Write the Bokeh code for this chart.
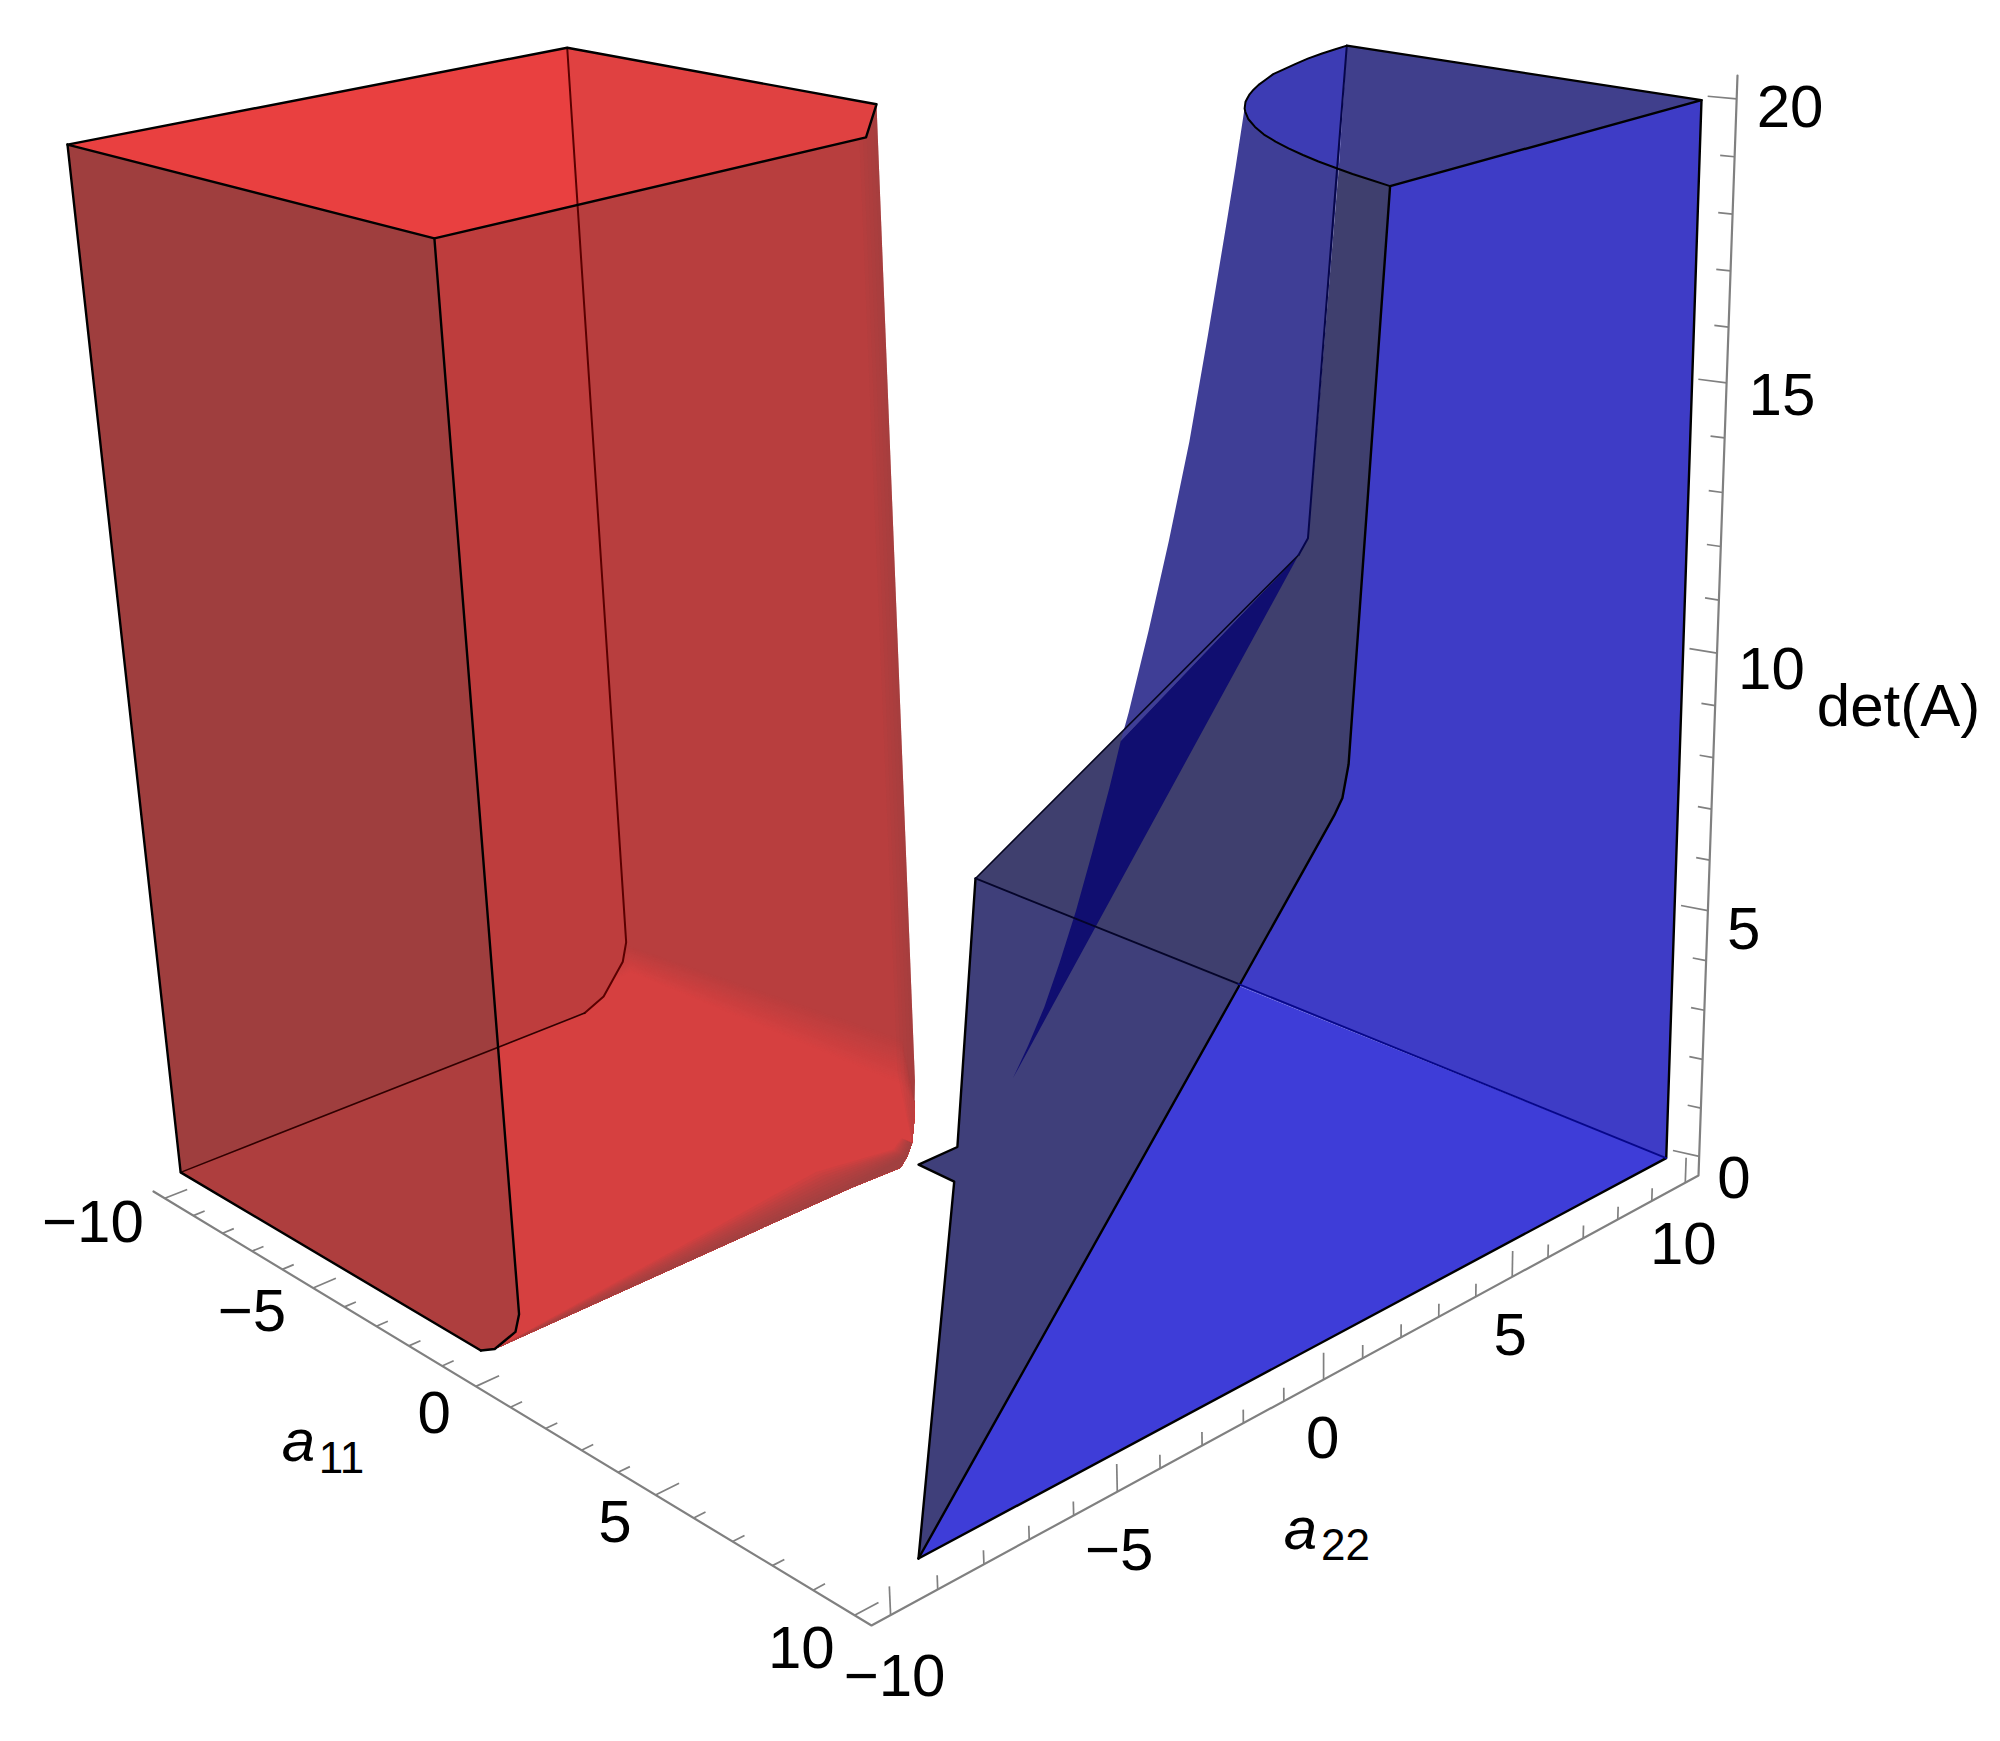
from bokeh.plotting import figure
from bokeh.embed import file_html
from bokeh.resources import INLINE
from bokeh.models import ColumnDataSource
from bokeh.core.properties import value

# ---------- tick values and labels ----------
a11_ticks = list(range(-10, 11))
a22_ticks = list(range(-10, 11))
det_ticks = list(range(0, 21))
a11_major = [-10, -5, 0, 5, 10]
a22_major = [-10, -5, 0, 5, 10]
det_major = [0, 5, 10, 15, 20]
a11_labels = ["\u221210", "\u22125", "0", "5", "10"]
a22_labels = ["\u221210", "\u22125", "0", "5", "10"]
det_labels = ["0", "5", "10", "15", "20"]

# ---------- surface outlines, (a11, a22, det) ----------
# rim of the det = a11*a22 sheet at det = 20, from a11 = 10 round to a22 = 10
blue_curve = [(10, 2, 20), (9.5, 2.11, 20), (9, 2.22, 20), (8.6, 2.33, 20), (8, 2.5, 20), (7.5, 2.67, 20), (7, 2.86, 20),
              (6.5, 3.08, 20), (6, 3.33, 20), (5.5, 3.64, 20), (5, 4, 20), (4.6, 4.35, 20), (4.4, 4.54, 20),
              (4.22, 4.74, 20), (4.05, 4.93, 20), (3.9, 5.13, 20), (3.7, 5.4, 20), (3.5, 5.71, 20), (3.3, 6.05, 20),
              (3.1, 6.45, 20), (2.9, 6.85, 20), (2.7, 7.35, 19.98), (2.5, 7.85, 19.96), (2.3, 8.4, 19.94),
              (2.1, 9.0, 19.91), (1.95, 9.5, 19.88), (1.8, 10, 19.85)]
blue_sil_low = [(1, 1.58, 1.58), (1.25, 1.76, 2.27), (1.5, 1.97, 3.07), (1.75, 2.16, 4.0), (2, 2.37, 5.04),
                (2.25, 2.58, 6.21), (2.5, 2.82, 7.5)]
blue_cross = [(-4.53, 10, 4.47)]
blue_sil_high = [(2.75, 3.1, 8.94), (3, 3.4, 10.5), (3.25, 3.7, 12.18), (3.5, 4.0, 14), (3.75, 4.25, 15.96),
                 (4, 4.51, 18.05), (4.1, 4.62, 18.93), (4.22, 4.74, 20)]
blue_hyp = [(10, -9.03, 0), (1, 0, 0), (0, 0, 0), (0, 1, 0), (-9.2, 10, 0)]
blue_back = [(-9.2, 10, 0), (0.55, 10, 9.7), (0.8, 10, 10.1), (1.8, 10, 19.85)]
blue_front = [(10, 2, 20), (10, 1.05, 10.5), (10, 0.9, 9.95), (10, 0.7, 9.7), (10, -1.6, 7.4), (10, -9.03, 0)]
blue_corner_top = (10, 9.95, 20)
blue_corner_low = (10, 9.92, 0)
blue_floor_split = (-1.18, 10, 0)

red_top = [(-10, -10, 19.85), (-10, 0.92, 19.75), (-1.16, 1, 19.9), (0.95, -1.1, 20), (0.9, -10, 20)]
red_top_back = [(-10, 0.92, 19.75), (-1.16, 1, 19.9), (0.95, -1.1, 20), (0.9, -7.26, 20)]
red_rim = [(-1.16, 1, 19.9), (-1.16, 1, 1), (-0.85, 0.7, 0.75), (-0.6, 0.45, 0.5), (-0.45, 0.25, 0.2)]
red_lower = [(-0.2, -0.1, 0.14), (0, -0.45, 0.1), (0, -1.7, 0.15), (0.08, -10, 0.2), (-0.35, -10, 0), (-10, -10, 0)]
red_front = [(0.9, -10, 20), (0.9, -10, 1.2), (0.75, -10, 0.8), (0.08, -10, 0.2), (-0.35, -10, 0), (-10, -10, 0)]
red_back = [(-10, 0.92, 19.75), (-10, 0.92, 1.2), (-10, 0.8, 0.8), (-10, 0.25, 0.2), (-10, -0.26, 0), (-10, -10, 0)]
red_front_cross = (0.9, -10, 6.2)

# ---------- camera: box corners on the page and their perspective weights ----------
BOX = 10.4
Z0, Z1 = -0.4, 20.4
C0 = (153, 1191, 1.0)
C1 = (871, 1625, 0.815)
C2 = (1698, 1175, 0.9829)
C3 = (1737, 75, 0.8891)
H = [tuple((c[i] * c[2] if i < 2 else c[2]) for i in range(3)) for c in (C0, C1, C2, C3)]
DX = [H[1][i] - H[0][i] for i in range(3)]
DY = [H[2][i] - H[1][i] for i in range(3)]
DZ = [H[3][i] - H[2][i] for i in range(3)]


def project(a, b, d):
    u = (a + BOX) / (2 * BOX)
    v = (b + BOX) / (2 * BOX)
    w = (d - Z0) / (Z1 - Z0)
    q = [H[0][i] + u * DX[i] + v * DY[i] + w * DZ[i] for i in range(3)]
    return q[0] / q[2], q[1] / q[2]


def xy(points):
    pts = [project(*p) for p in points]
    return [p[0] for p in pts], [p[1] for p in pts]


p = figure(width=1984, height=1725, x_range=(0, 1984), y_range=(1725, 0), output_backend="svg",
           toolbar_location=None, min_border=0, outline_line_color=None, background_fill_color="white")
p.axis.visible = False
p.grid.visible = False


def fill(points, color, alpha=1.0):
    x, y = xy(points)
    p.patch(x, y, fill_color=color, fill_alpha=alpha, line_color=None)


def stroke(points, color="#000000", width=2.0):
    x, y = xy(points)
    p.line(x, y, line_color=color, line_width=width, line_join="round", line_cap="round")


def mix(c1, c2, t):
    return "#" + "".join("%02x" % round(a + (b - a) * t) for a, b in zip(c1, c2))


# ---------- red solid ----------
fill(red_top[:3] + red_rim[1:] + red_lower, "#b83e3e")
STEPS = 24
for i in range(1, STEPS + 1):
    t = i / STEPS
    dl = 1.1 + (0.5 - 1.1) * t
    dr = 1.8 + (0.8 - 1.8) * t
    fill([(-10, 1, dl), (-1.5, 1, dr)] + red_rim[2:] + red_lower, mix((0xb8, 0x3e, 0x3e), (0xd6, 0x40, 0x40), t))
for s in (0.1, 0.2, 0.3, 0.4, 0.5):
    fill(red_rim + [(-1.16 - s, 1, 1), (-1.16 - s, 1, 19.9)], "#8f4040", 0.08)
for i in range(1, 11):
    t = i / 10
    fill([(0.08, -10, 0.2), (0, -1.7, 0.15), (0, -0.45, 0.1), (-0.2, -0.1, 0.14), (-0.45, 0.25, 0.2),
          (-0.45 - 0.3 * t, 0.25, 0.2), (-0.2 - 0.4 * t, -0.1, 0.14), (-1.0 * t, -1.7, 0.12)], "#8a4040", 0.1)
fill([red_top[4]] + red_back, "#be3d3d")
fill([red_top[0]] + red_front, "#ae3e3e")
fill([red_top[0], red_top[4], red_front_cross, red_front[-1]], "#9f3e3e")
fill(red_top, "#e94040")
fill(red_top_back, "#e04141")

stroke(red_back[:5], "#5a0000", 2.0)
stroke(red_back[4:], "#300000", 1.6)
stroke(red_top + [red_top[0]], "#000000", 2.4)
stroke(red_front[:5], "#000000", 2.4)
stroke([red_front[4], red_front[5], red_top[0]], "#000000", 2.4)

# ---------- blue solid ----------
fill(blue_hyp + blue_back[1:3] + blue_front[1:5] + [blue_front[-1]], "#3f3f7a")
fill(blue_back[:3] + [(8.6, 2.33, 20), (9, 2.22, 20), (10, 2, 20)] + blue_front[1:5], "#3f3f6e")
fill(blue_sil_low + blue_cross + [blue_back[1]], "#100e70")
upper = blue_curve[3:14][::-1]
fill(blue_cross + blue_sil_high + upper[1:] + [blue_back[2], blue_back[1]], "#3f3e96")
fill([blue_front[4], blue_front[3], blue_front[2], blue_front[1], blue_front[0], blue_corner_top, blue_corner_low],
     "#3e3cc6")
fill([blue_front[-1], blue_front[4], blue_corner_low], "#3e3dd8")
fill([blue_curve[-1], blue_corner_top] + blue_curve[:4], "#403f8c")
fill([blue_curve[-1]] + blue_curve[3:], "#3d3cb4")

stroke(blue_hyp, "#000000", 2.4)
stroke(blue_back[:2], "#05051f", 1.6)
stroke(blue_back[1:], "#06064a", 2.0)
stroke(blue_curve, "#000000", 2.0)
stroke([blue_curve[-1], blue_corner_top, blue_front[0]], "#000000", 2.4)
stroke(blue_front, "#000000", 2.4)
stroke([blue_corner_top, blue_corner_low, blue_front[-1]], "#000000", 2.4)
stroke([blue_hyp[-1], blue_floor_split], "#05052a", 1.8)
stroke([blue_floor_split, blue_corner_low], "#07078a", 1.8)

# ---------- axes ----------
AXIS = "#808080"
stroke([(-BOX, -BOX, Z0), (BOX, -BOX, Z0), (BOX, BOX, Z0), (BOX, BOX, Z1)], AXIS, 2.2)


def ticks(values, major, start, end):
    xs, ys = [], []
    for t in values:
        k = 1.0 if t in major else 0.5
        a, b = project(*start(t)), project(*end(t, k))
        xs.append([a[0], b[0]])
        ys.append([a[1], b[1]])
    p.multi_line(xs, ys, line_color=AXIS, line_width=1.7)


ticks(a11_ticks, a11_major, lambda t: (t, -BOX, Z0), lambda t, k: (t, -BOX + 0.5 * k, Z0))
ticks(a22_ticks, a22_major, lambda t: (BOX, t, Z0), lambda t, k: (BOX, t, Z0 + 0.52 * k))
ticks(det_ticks, det_major, lambda t: (BOX, BOX, t), lambda t, k: (BOX - 0.5 * k, BOX - 0.15 * k, t))


def labels(vals, texts, pos, dx, dy, align):
    pts = [project(*pos(t)) for t in vals]
    src = ColumnDataSource(dict(x=[q[0] for q in pts], y=[q[1] for q in pts], t=texts, dx=dx, dy=dy))
    p.text("x", "y", text="t", x_offset="dx", y_offset="dy", source=src, text_align=align, text_baseline="middle",
           text_font=value("Liberation Sans"), text_font_size="60px", text_color="#000000")


labels(a11_major, a11_labels, lambda t: (t, -BOX, Z0), [-21, -27, -25, -24, -20], [23, 23, 26, 27, 32], "right")
labels(a22_major, a22_labels, lambda t: (BOX, t, Z0), [4, 2, -1, -2, -2], [60, 58, 58, 58, 61], "center")
labels(det_major, det_labels, lambda t: (BOX, BOX, t), [18, 19, 21, 22, 20], [21, 18, 15, 12, 8], "left")


def title(x, y, text, size, style="normal", align="left"):
    p.text([x], [y], text=[text], text_font=value("Liberation Sans"), text_font_size=size, text_font_style=style,
           text_align=align, text_baseline="middle", text_color="#000000")


title(1898, 705, "det(A)", "60px", align="center")
title(298, 1440, "a", "60px", "italic", "center")
title(341, 1457, "11", "44px", align="center")
title(1300, 1528, "a", "60px", "italic", "center")
title(1345, 1544, "22", "44px", align="center")

open("out.html", "w").write(file_html(p, INLINE))
